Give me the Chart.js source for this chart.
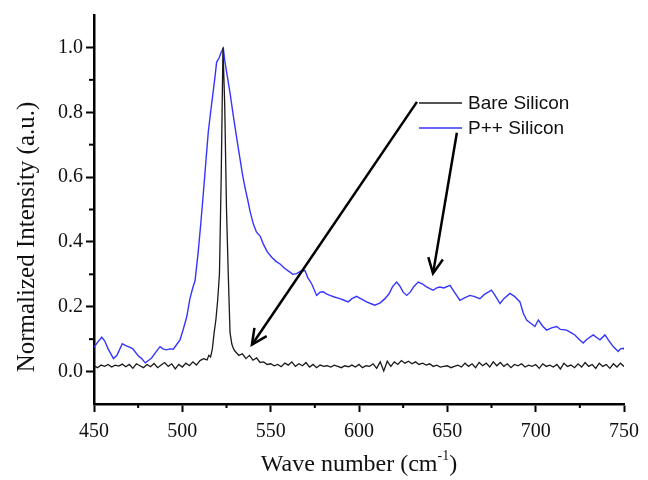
<!DOCTYPE html>
<html>
<head>
<meta charset="utf-8">
<script src="https://cdn.jsdelivr.net/npm/chart.js@4"></script>
<style>
  html, body { margin: 0; padding: 0; background: #fff; }
  #wrap { width: 648px; height: 480px; }
</style>
</head>
<body>
<div id="wrap"><canvas id="chart"></canvas></div>
<script>
// Bare Silicon (black)
const bareX = [450, 452, 454, 456, 458, 460, 462, 464, 466, 468, 470, 472, 474, 476, 478, 480, 482, 484, 486, 488,
  490, 492, 494, 496, 498, 500, 502, 504, 506, 508, 510, 512, 514, 515, 516, 517, 518, 519, 520, 521,
  522, 523, 524, 525, 526, 527, 528, 529, 530, 532, 534, 536, 538, 540, 542, 544, 546, 548, 550,
  552, 554, 556, 558, 560, 562, 564, 566, 568, 570, 572, 574, 576, 578, 580, 582, 584, 586, 588, 590,
  592, 594, 596, 598, 600, 602, 604, 606, 608, 610, 612, 614, 616, 618, 620, 622, 624, 626, 628, 630,
  632, 634, 636, 638, 640, 642, 644, 646, 648, 650, 652, 654, 656, 658, 660, 662, 664, 666, 668, 670,
  672, 674, 676, 678, 680, 682, 684, 686, 688, 690, 692, 694, 696, 698, 700, 702, 704, 706, 708, 710,
  712, 714, 716, 718, 720, 722, 724, 726, 728, 730, 732, 734, 736, 738, 740, 742, 744, 746, 748, 750];
const bareY = [0.018, 0.012, 0.02, 0.016, 0.022, 0.014, 0.02, 0.017, 0.023, 0.015, 0.022, 0.01, 0.024, 0.018, 0.012, 0.022, 0.015, 0.025, 0.012, 0.02,
  0.028, 0.016, 0.024, 0.008, 0.022, 0.014, 0.026, 0.018, 0.03, 0.02, 0.034, 0.04, 0.036, 0.05, 0.045, 0.07, 0.12, 0.16, 0.22, 0.3,
  0.6, 1.0, 0.82, 0.5, 0.3, 0.12, 0.085, 0.07, 0.062, 0.05, 0.055, 0.04, 0.05, 0.035, 0.042, 0.028, 0.03, 0.022, 0.024,
  0.018, 0.022, 0.015, 0.026, 0.02, 0.03, 0.016, 0.024, 0.018, 0.028, 0.014, 0.022, 0.012, 0.02, 0.016, 0.018, 0.014, 0.02, 0.016, 0.012,
  0.018, 0.015, 0.02, 0.014, 0.022, 0.012, 0.018, 0.016, 0.024, 0.01, 0.03, 0.002, 0.032, 0.016, 0.03, 0.022, 0.034, 0.026, 0.032, 0.024,
  0.03, 0.022, 0.026, 0.02, 0.024, 0.016, 0.02, 0.014, 0.016, 0.018, 0.012, 0.016, 0.02, 0.014, 0.026, 0.016, 0.024, 0.012, 0.028, 0.018,
  0.026, 0.014, 0.03, 0.018, 0.028, 0.016, 0.024, 0.012, 0.022, 0.018, 0.024, 0.014, 0.02, 0.016, 0.022, 0.01, 0.024, 0.016, 0.02, 0.014,
  0.022, 0.008, 0.026, 0.016, 0.02, 0.012, 0.024, 0.014, 0.028, 0.016, 0.022, 0.01, 0.026, 0.016, 0.022, 0.01, 0.024, 0.014, 0.026, 0.016];

// P++ Silicon (blue)
const dopedX = [450, 452, 454.4, 456, 458, 461, 463, 466, 468, 470.4, 472, 475, 477, 479, 481, 482.6, 485, 487.4, 489, 491,
  493, 494.9, 497, 498.7, 500.5, 502.5, 504.3, 506, 507.2, 509, 510.5, 512, 513.5, 514.7, 516, 517.2, 518.5, 519.4, 520.9, 522,
  523.2, 524, 525.1, 527, 528.8, 530.5, 532.6, 534, 535.5, 537, 538.3, 540.2, 542, 544, 545.8, 548, 550.6, 553, 555.3, 558,
  560.9, 562.5, 564.7, 567, 569.4, 571, 573.2, 576, 578, 579.8, 581.5, 583.6, 586, 589.2, 591.5, 593.9, 596, 598.6, 601, 604.3,
  606.5, 609, 612, 614.7, 617, 619, 621.3, 623, 625, 627, 629, 631, 633.5, 636, 638, 640.1, 642, 644, 645.8, 648,
  651.5, 654, 657.1, 660, 662.8, 665, 668.4, 671, 675, 677, 679.8, 682, 685.4, 688, 691.1, 693, 694.9, 697, 699.6, 701.5,
  704, 706.2, 709, 711.9, 714, 717.5, 720, 722.2, 724.5, 726.9, 729, 732.6, 734.5, 736.4, 739.2, 741.5, 743.9, 746.7, 748, 749.6, 750];
const dopedY = [0.075, 0.09, 0.106, 0.095, 0.07, 0.04, 0.05, 0.086, 0.08, 0.075, 0.07, 0.049, 0.04, 0.027, 0.035, 0.042, 0.06, 0.077, 0.07, 0.067,
  0.07, 0.069, 0.085, 0.098, 0.13, 0.169, 0.225, 0.26, 0.28, 0.37, 0.46, 0.557, 0.66, 0.74, 0.8, 0.852, 0.91, 0.954, 0.969, 0.985,
  0.997, 0.96, 0.923, 0.86, 0.791, 0.73, 0.658, 0.61, 0.567, 0.53, 0.495, 0.455, 0.43, 0.418, 0.394, 0.37, 0.353, 0.34, 0.332, 0.318,
  0.307, 0.3, 0.302, 0.31, 0.312, 0.29, 0.271, 0.235, 0.245, 0.246, 0.24, 0.235, 0.23, 0.225, 0.22, 0.215, 0.225, 0.232, 0.225, 0.215,
  0.21, 0.205, 0.212, 0.225, 0.24, 0.262, 0.276, 0.265, 0.245, 0.235, 0.245, 0.262, 0.276, 0.27, 0.262, 0.256, 0.251, 0.258, 0.261, 0.258,
  0.266, 0.245, 0.22, 0.228, 0.235, 0.232, 0.225, 0.238, 0.251, 0.235, 0.21, 0.225, 0.241, 0.232, 0.215, 0.18, 0.159, 0.15, 0.139, 0.159,
  0.14, 0.128, 0.135, 0.139, 0.13, 0.128, 0.12, 0.113, 0.1, 0.088, 0.1, 0.113, 0.105, 0.098, 0.113, 0.095, 0.077, 0.062, 0.07, 0.072, 0.068];

const xMajor = [450, 500, 550, 600, 650, 700, 750];
const xMinor = [475, 525, 575, 625, 675, 725];
const yMajor = [0.0, 0.2, 0.4, 0.6, 0.8, 1.0];
const yMinor = [0.1, 0.3, 0.5, 0.7, 0.9];

const seriesNames = ['Bare Silicon', 'P++ Silicon'];
const seriesColors = ['#1a1a1a', '#3535ff'];
const xTitle = ['Wave number (cm', '-1', ')'];
const yTitle = 'Normalized Intensity (a.u.)';

// arrows in data units: [fromX, fromY, toX, toY]
const arrows = [
  [632.8, 0.832, 539.4, 0.083],
  [655.4, 0.737, 641.9, 0.303]
];

const serif = '"Liberation Serif", "Times New Roman", serif';
const toPoints = (xs, ys) => xs.map((x, i) => ({ x: x, y: ys[i] }));

const extras = {
  id: 'extras',
  afterDraw(chart) {
    const ctx = chart.ctx;
    const xs = chart.scales.x, ys = chart.scales.y;
    ctx.save();
    ctx.strokeStyle = '#000';
    ctx.lineWidth = 2;
    // minor ticks
    xMinor.forEach(v => {
      const px = xs.getPixelForValue(v);
      ctx.beginPath(); ctx.moveTo(px, xs.top); ctx.lineTo(px, xs.top + 4); ctx.stroke();
    });
    yMinor.forEach(v => {
      const py = ys.getPixelForValue(v);
      ctx.beginPath(); ctx.moveTo(ys.right, py); ctx.lineTo(ys.right - 5, py); ctx.stroke();
    });
    // arrows
    ctx.lineWidth = 2.5;
    arrows.forEach(a => {
      const x1 = xs.getPixelForValue(a[0]), y1 = ys.getPixelForValue(a[1]);
      const x2 = xs.getPixelForValue(a[2]), y2 = ys.getPixelForValue(a[3]);
      const ang = Math.atan2(y2 - y1, x2 - x1);
      ctx.beginPath(); ctx.moveTo(x1, y1); ctx.lineTo(x2, y2); ctx.stroke();
      ctx.beginPath();
      ctx.moveTo(x2 - 17 * Math.cos(ang - 0.45), y2 - 17 * Math.sin(ang - 0.45));
      ctx.lineTo(x2, y2);
      ctx.lineTo(x2 - 17 * Math.cos(ang + 0.45), y2 - 17 * Math.sin(ang + 0.45));
      ctx.stroke();
    });
    // legend
    ctx.font = '19px "Liberation Sans", Arial, sans-serif';
    ctx.textBaseline = 'middle';
    ctx.textAlign = 'left';
    ctx.fillStyle = '#111';
    seriesNames.forEach((name, i) => {
      const ly = 103 + i * 25;
      ctx.strokeStyle = seriesColors[i];
      ctx.lineWidth = 1.5;
      ctx.beginPath(); ctx.moveTo(419, ly); ctx.lineTo(462, ly); ctx.stroke();
      ctx.fillText(name, 468, ly + 1);
    });
    // axis titles
    ctx.fillStyle = '#111';
    ctx.textBaseline = 'alphabetic';
    ctx.font = '24px ' + serif;
    const w0 = ctx.measureText(xTitle[0]).width;
    ctx.font = '14px ' + serif;
    const w1 = ctx.measureText(xTitle[1]).width;
    ctx.font = '24px ' + serif;
    const w2 = ctx.measureText(xTitle[2]).width;
    let tx = (xs.left + xs.right) / 2 - (w0 + w1 + w2) / 2;
    const base = 471;
    ctx.fillText(xTitle[0], tx, base);
    ctx.font = '14px ' + serif;
    ctx.fillText(xTitle[1], tx + w0, base - 11);
    ctx.font = '24px ' + serif;
    ctx.fillText(xTitle[2], tx + w0 + w1, base);

    ctx.translate(27, 237);
    ctx.rotate(-Math.PI / 2);
    ctx.textAlign = 'center';
    ctx.textBaseline = 'middle';
    ctx.font = '25px ' + serif;
    ctx.fillText(yTitle, 0, 0);
    ctx.restore();
  }
};

new Chart(document.getElementById('chart'), {
  type: 'line',
  data: {
    datasets: [
      { label: seriesNames[0], data: toPoints(bareX, bareY), borderColor: seriesColors[0], borderWidth: 1.3, pointRadius: 0, tension: 0 },
      { label: seriesNames[1], data: toPoints(dopedX, dopedY), borderColor: seriesColors[1], borderWidth: 1.4, pointRadius: 0, tension: 0 }
    ]
  },
  options: {
    responsive: true,
    maintainAspectRatio: false,
    animation: false,
    layout: { padding: { left: 0, right: 24, top: 12, bottom: 0 } },
    plugins: { legend: { display: false }, tooltip: { enabled: false } },
    scales: {
      x: {
        type: 'linear',
        min: 450, max: 750,
        afterBuildTicks: s => { s.ticks = xMajor.map(v => ({ value: v })); },
        afterFit: s => { s.height = 76; },
        border: { color: '#000', width: 2.5 },
        grid: { drawOnChartArea: false, drawTicks: true, tickLength: 8, tickColor: '#000', tickWidth: 2 },
        ticks: { color: '#111', padding: 8, maxRotation: 0, font: { family: serif, size: 20 } },
        title: { display: false }
      },
      y: {
        min: -0.1, max: 1.1,
        afterBuildTicks: s => { s.ticks = yMajor.map(v => ({ value: v })); },
        afterFit: s => { s.width = 94; },
        border: { color: '#000', width: 2.5 },
        grid: { drawOnChartArea: false, drawTicks: true, tickLength: 8, tickColor: '#000', tickWidth: 2 },
        ticks: { color: '#111', padding: 3, callback: v => v.toFixed(1), font: { family: serif, size: 20 } },
        title: { display: false }
      }
    }
  },
  plugins: [extras]
});
</script>
</body>
</html>
